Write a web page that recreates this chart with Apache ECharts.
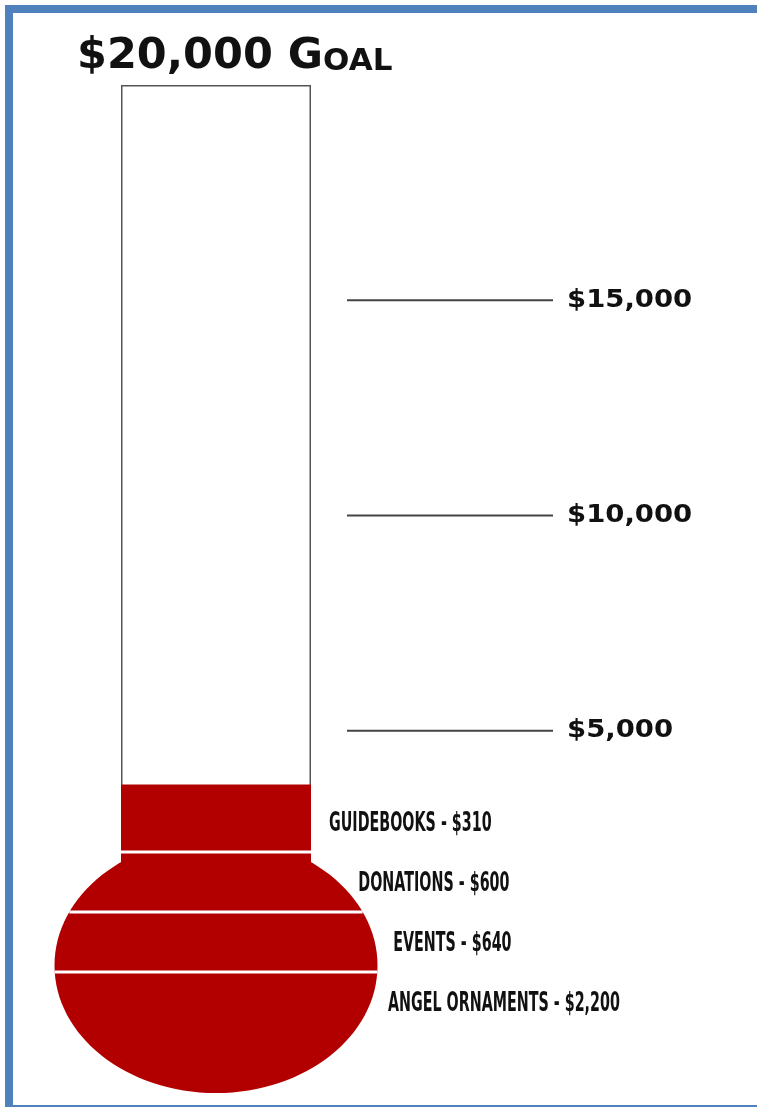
<!DOCTYPE html>
<html><head><meta charset="utf-8">
<script src="https://cdn.jsdelivr.net/npm/echarts@6/dist/echarts.min.js"></script>
<style>
html,body{margin:0;padding:0;background:#fff;}
#chart{position:absolute;left:0;top:0;width:757px;height:1107px;}
#frame{position:absolute;left:5px;top:5px;width:752px;height:1102px;box-sizing:border-box;border-top:8px solid #4f81bd;border-left:8px solid #4f81bd;border-bottom:2px solid #4f81bd;pointer-events:none;}
</style></head><body>
<div id="chart"></div><div id="frame"></div>
<script>
// ---- data ----
const goal = 20000;
const sources = ['Guidebooks', 'Donations', 'Events', 'Angel Ornaments'];
const raised = [310, 600, 640, 2200];
const tickValues = [5000, 10000, 15000];
const totalRaised = raised.reduce((a, b) => a + b, 0);

// ---- layout / style ----
const RED = '#b20000';
const TUBE = { left: 121, width: 190, top: 85, bottom: 946 };
const BULB = { rx: 161.5, ryRatio: 0.79, below: 61 };
const BANDS = { top: 792, height: 240 };
const tubeCx = TUBE.left + TUBE.width / 2;
const money = v => '$' + v.toLocaleString('en-US');

const chart = echarts.init(document.getElementById('chart'), null, { renderer: 'canvas' });

function bulbGeom(cs) {
  const rx = BULB.rx;
  const ry = rx * BULB.ryRatio;
  const bottom = cs.y + cs.height + BULB.below;
  return { cx: tubeCx, cy: bottom - ry, rx, ry };
}
function halfWidthAt(g, y) {
  const dy = (y - g.cy) / g.ry;
  const e = Math.abs(dy) < 1 ? g.rx * Math.sqrt(1 - dy * dy) : 0;
  return y < g.cy ? Math.max(e, TUBE.width / 2) : e;
}

chart.setOption({
  animation: false,
  backgroundColor: '#fff',
  title: {
    left: 72, top: 27,
    text: '{a|' + money(goal) + ' G}{b|OAL}',
    textStyle: {
      rich: {
        a: { fontFamily: 'DejaVu Sans', fontWeight: 'bold', fontSize: 43, color: '#111', lineHeight: 46, verticalAlign: 'bottom' },
        b: { fontFamily: 'DejaVu Sans', fontWeight: 'bold', fontSize: 31, color: '#111', lineHeight: 46, verticalAlign: 'bottom', padding: [0, 0, 1, 0] }
      }
    }
  },
  grid: [
    { left: TUBE.left, top: TUBE.top, width: TUBE.width, height: TUBE.bottom - TUBE.top },
    { left: 347, top: TUBE.top, width: 206, height: TUBE.bottom - TUBE.top },
    { left: tubeCx - BULB.rx, top: BANDS.top, width: BULB.rx * 2, height: BANDS.height }
  ],
  xAxis: [
    { type: 'category', gridIndex: 0, data: ['Goal'], show: false },
    { type: 'value', gridIndex: 1, min: 0, max: 1, show: false },
    { type: 'value', gridIndex: 2, min: 0, max: 1, show: false }
  ],
  yAxis: [
    { type: 'value', gridIndex: 0, min: 0, max: goal, show: false },
    { type: 'value', gridIndex: 1, min: 0, max: goal, show: false },
    { type: 'category', gridIndex: 2, data: sources, inverse: true, show: false }
  ],
  series: [
    {
      name: 'Goal', type: 'bar', xAxisIndex: 0, yAxisIndex: 0,
      data: [goal], barWidth: '100%', silent: true, z: 1,
      itemStyle: { color: '#fff', borderColor: '#555', borderWidth: 1.5 }
    },
    {
      name: 'Raised', type: 'bar', xAxisIndex: 0, yAxisIndex: 0,
      data: [totalRaised], barWidth: '100%', barGap: '-100%', silent: true, z: 2,
      itemStyle: { color: RED, borderColor: RED, borderWidth: 1.5 }
    },
    {
      name: 'Ticks', type: 'custom', xAxisIndex: 1, yAxisIndex: 1, silent: true, z: 3,
      data: tickValues.map(v => [0, v]),
      renderItem(params, api) {
        const v = api.value(1);
        const y = api.coord([0, v])[1];
        const cs = params.coordSys;
        return {
          type: 'group', children: [
            { type: 'line', shape: { x1: cs.x, y1: y, x2: cs.x + cs.width, y2: y },
              style: { stroke: '#444', lineWidth: 2 } },
            { type: 'text', x: cs.x + cs.width + 14, y: y, scaleX: 1.1,
              style: { text: money(v), font: 'bold 25px "DejaVu Sans"', fill: '#111', align: 'left', verticalAlign: 'middle' } }
          ]
        };
      }
    },
    {
      name: 'Sources', type: 'custom', xAxisIndex: 2, yAxisIndex: 2, silent: true, z: 4,
      data: raised.map((v, i) => [0, i, v]),
      renderItem(params, api) {
        const i = api.value(1);
        const v = api.value(2);
        const cs = params.coordSys;
        const g = bulbGeom(cs);
        const c = api.coord([0, i])[1];
        const slot = api.size([0, 1])[1];
        const children = [];
        if (i === 0) {
          children.push({ type: 'ellipse', shape: { cx: g.cx, cy: g.cy, rx: g.rx, ry: g.ry }, style: { fill: RED } });
        } else {
          const ys = c - slot / 2;
          const hw = halfWidthAt(g, ys);
          children.push({ type: 'line', shape: { x1: g.cx - hw, y1: ys, x2: g.cx + hw, y2: ys },
            style: { stroke: '#fff', lineWidth: 3 } });
        }
        const ly = c + 2;
        const lx = g.cx + halfWidthAt(g, ly) + 18;
        children.push({ type: 'text', x: lx, y: ly, scaleX: 0.55,
          style: { text: sources[i].toUpperCase() + ' - ' + money(v), font: 'bold 26px "DejaVu Sans"', fill: '#111', align: 'left', verticalAlign: 'middle' } });
        return { type: 'group', children };
      }
    }
  ]
});
</script>
</body></html>
